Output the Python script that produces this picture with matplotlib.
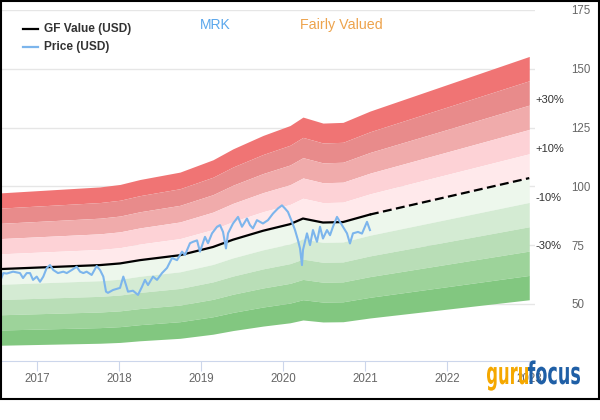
import matplotlib
matplotlib.use("Agg")
import matplotlib.pyplot as plt
from matplotlib.lines import Line2D
from matplotlib.patches import Rectangle, PathPatch
from matplotlib.textpath import TextPath
from matplotlib.font_manager import FontProperties
from matplotlib.transforms import Affine2D

plt.rcParams["font.family"] = ["Liberation Sans", "DejaVu Sans"]

# GF Value (USD); last segment is the projection (dashed)
gf_years = [2016.545, 2017.765, 2018.009, 2018.252, 2018.740, 2019.143, 2019.387,
            2019.753, 2020.082, 2020.240, 2020.484, 2020.728, 2021.057, 2023.0]
gf_values = [64.8, 66.5, 67.2, 68.6, 70.7, 74.2, 77.3,
             81.1, 83.9, 86.3, 84.6, 84.8, 88.0, 103.5]
n_actual = 13  # points with a solid line

# Price (USD)
price_years = [2016.545, 2016.585, 2016.627, 2016.704, 2016.789, 2016.826, 2016.871,
               2016.911, 2016.948, 2016.993, 2017.033, 2017.073, 2017.115, 2017.155,
               2017.195, 2017.252, 2017.317, 2017.359, 2017.420, 2017.480, 2017.521,
               2017.561, 2017.602, 2017.663, 2017.724, 2017.765, 2017.805, 2017.838,
               2017.862, 2017.923, 2018.009, 2018.049, 2018.082, 2018.106, 2018.167,
               2018.228, 2018.277, 2018.313, 2018.350, 2018.411, 2018.460, 2018.521,
               2018.582, 2018.643, 2018.704, 2018.765, 2018.801, 2018.862, 2018.899,
               2018.948, 2018.984, 2019.045, 2019.082, 2019.131, 2019.192, 2019.228,
               2019.265, 2019.301, 2019.326, 2019.387, 2019.448, 2019.496, 2019.557,
               2019.594, 2019.630, 2019.679, 2019.752, 2019.813, 2019.874, 2019.935,
               2019.984, 2020.020, 2020.057, 2020.106, 2020.143, 2020.179, 2020.204,
               2020.228, 2020.240, 2020.289, 2020.326, 2020.362, 2020.411, 2020.448,
               2020.484, 2020.533, 2020.570, 2020.606, 2020.655, 2020.691, 2020.728,
               2020.777, 2020.813, 2020.850, 2020.911, 2020.960, 2021.021, 2021.057]
price_values = [59.4, 63.1, 62.9, 63.7, 63.1, 61.0, 63.1,
                63.1, 60.2, 61.6, 59.4, 61.6, 65.3, 66.5,
                64.4, 63.1, 63.7, 63.1, 64.4, 65.8, 63.7,
                63.1, 63.7, 62.3, 66.1, 64.4, 61.6, 55.2,
                54.7, 55.9, 56.8, 61.6, 58.0, 55.2, 55.6,
                53.8, 57.3, 60.2, 58.0, 61.6, 60.2, 63.1,
                65.3, 69.5, 68.6, 72.2, 70.8, 75.8, 76.4,
                77.0, 72.2, 78.5, 75.8, 80.0, 82.8, 83.5,
                80.6, 73.6, 80.0, 84.2, 87.0, 82.8, 86.3,
                83.5, 82.1, 85.6, 84.2, 85.6, 88.4, 90.6,
                91.9, 90.6, 89.1, 84.9, 81.4, 77.1, 73.6,
                66.5, 72.9, 80.0, 75.0, 81.4, 76.4, 82.8,
                77.8, 81.4, 79.2, 82.8, 87.0, 84.9, 82.8,
                80.0, 75.7, 80.0, 80.6, 79.9, 84.9, 81.4]

# bands as multiples of GF Value, with fill colours
band_edges = [(1.4, 1.5), (1.3, 1.4), (1.2, 1.3), (1.1, 1.2), (1.0, 1.1),
              (0.9, 1.0), (0.8, 0.9), (0.7, 0.8), (0.6, 0.7), (0.5, 0.6)]
band_colors = ["#f07474", "#e88b8b", "#f0abab", "#fdd2d6", "#ffe9eb",
               "#edf7ec", "#d4ebd3", "#b9deb7", "#9dd39a", "#82c780"]
band_labels = ["+30%", "+10%", "-10%", "-30%"]
band_label_ratios = [1.3, 1.1, 0.9, 0.7]

year_ticks = [2017, 2018, 2019, 2020, 2021, 2022, 2023]
y_ticks = [50, 75, 100, 125, 150, 175]

fig = plt.figure(figsize=(6, 4.2), dpi=100)
ax = fig.add_axes([0.0, 59 / 420, 535 / 600, 351 / 420])
ax.set_xlim(2016.545, 2023.07)
ax.set_ylim(25.7, 175)

for y in y_ticks:
    ax.axhline(y, color="#e6e6e6", lw=1, zorder=0)

for (lo, hi), c in zip(band_edges, band_colors):
    ax.fill_between(gf_years, [v * lo for v in gf_values], [v * hi for v in gf_values],
                    color=c, lw=0, zorder=1)

ax.plot(gf_years[:n_actual], gf_values[:n_actual], color="black", lw=1.6, zorder=3)
ax.plot(gf_years[n_actual - 1:], gf_values[n_actual - 1:], color="black", lw=1.6,
        dashes=(4, 2), zorder=3)
ax.plot(price_years, price_values, color="#7cb5ec", lw=1.5, zorder=4)

for lab, r in zip(band_labels, band_label_ratios):
    ax.annotate(lab, xy=(1.0, gf_values[-1] * r), xycoords=("axes fraction", "data"),
                xytext=(0, 3.5), textcoords="offset points", ha="left", va="center",
                fontsize=8, color="#333333", annotation_clip=False)

for s in ["left", "right", "top"]:
    ax.spines[s].set_visible(False)
ax.spines["bottom"].set_color("#ccd6eb")
ax.set_xticks(year_ticks)
ax.set_xticklabels([str(y) for y in year_ticks])
ax.tick_params(axis="x", length=7.2, width=0.8, color="#ccd6eb", pad=1.5,
               labelsize=8.3, labelcolor="#666666")
ax.yaxis.tick_right()
ax.set_yticks(y_ticks)
ax.tick_params(axis="y", length=0, pad=26, labelsize=8.3, labelcolor="#666666")

# legend
for y, c, lab in [(29, "black", "GF Value (USD)"), (46.7, "#7cb5ec", "Price (USD)")]:
    fig.add_artist(Line2D([23 / 600, 38 / 600], [1 - y / 420] * 2, color=c, lw=1.6))
    fig.text(44 / 600, 1 - y / 420, lab, ha="left", va="center", fontsize=8.6,
             fontweight="bold", color="#333333")

fig.text(200 / 600, 1 - 25 / 420, "MRK", ha="left", va="center", fontsize=10,
         color="#5aa7ec")
fig.text(300 / 600, 1 - 25 / 420, "Fairly Valued", ha="left", va="center",
         fontsize=10.3, color="#eda34c")

# gurufocus logo, drawn narrow and tall
fp = FontProperties(family="DejaVu Sans", weight="bold")
for word, x0, w, c in [("guru", 487, 41, "#f5a800"), ("focus", 528, 52, "#1f5fa6")]:
    tp = TextPath((0, 0), word, size=10, prop=fp)
    ext = tp.get_extents()
    sx = w / ext.width
    sy = 3.1
    tr = Affine2D().translate(-ext.x0, 0).scale(sx, sy).translate(x0, 420 - 384)
    fig.add_artist(PathPatch(tp, transform=tr, color=c, lw=0))

fig.add_artist(Rectangle((0.5 / 600, 21.5 / 420), 598 / 600, 398 / 420,
                         transform=fig.transFigure, fill=False, ec="black", lw=1.5))

fig.savefig("out.png", dpi=100)
